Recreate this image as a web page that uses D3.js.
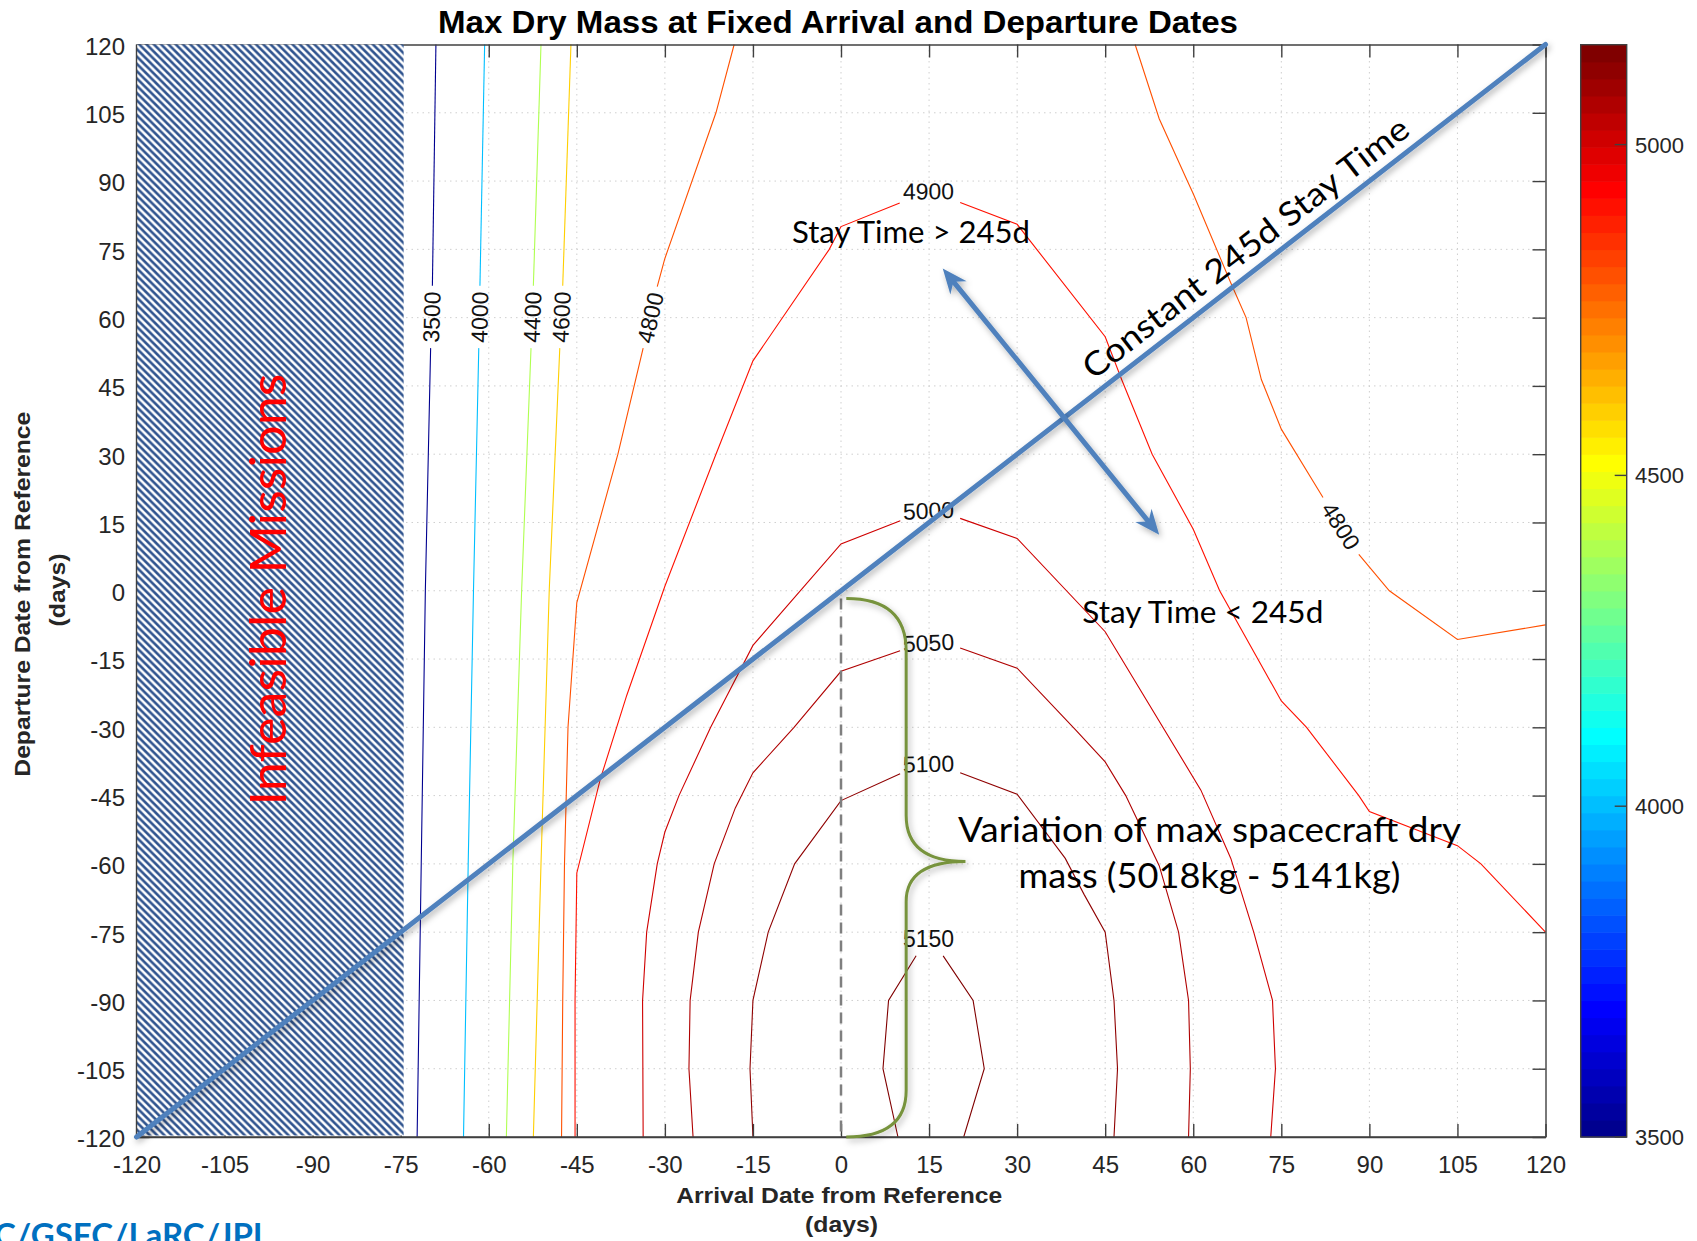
<!DOCTYPE html>
<html>
<head>
<meta charset="utf-8">
<script src="https://cdn.jsdelivr.net/npm/d3@7"></script>
<style>
  html,body{margin:0;padding:0;background:#fff;}
  svg{display:block;}
</style>
</head>
<body>
<svg id="chart" width="1697" height="1241"></svg>
<script>
// ---------------- DATA ----------------
const xTicks = [-120,-105,-90,-75,-60,-45,-30,-15,0,15,30,45,60,75,90,105,120];
const yTicks = [-120,-105,-90,-75,-60,-45,-30,-15,0,15,30,45,60,75,90,105,120];
const cbarTicks = [3500,4000,4500,5000];
const colorRange = [3500,5151];

// contour polylines in data units [arrival, departure]; each contour = list of pieces (split at the label)
const c3500 = [[[-69.0,120],[-69.6,67]],[[-69.9,53.3],[-70.8,0],[-71.5,-60],[-72.2,-120]]];
const c4000 = [[[-60.7,120],[-61.5,67]],[[-61.7,53.3],[-62.6,0],[-63.5,-60],[-64.3,-120]]];
const c4400 = [[[-51.1,120],[-52.4,67]],[[-52.8,53.3],[-54.4,0],[-55.9,-60],[-57.0,-120]]];
const c4600 = [[[-46.0,120],[-47.4,67]],[[-47.9,53.3],[-49.7,0],[-51.1,-60],[-52.4,-120]]];
const c4800L = [[[-18.2,120],[-21.3,105],[-30,73],[-31.3,66.8]],
                [[-33.7,53.3],[-38,30],[-45,-2.6],[-46.5,-30],[-47.1,-60],[-47.4,-90],[-47.6,-120]]];
const c4800R = [[[50.1,120],[54.2,103.7],[59,90],[60,87.2],[66.4,67.6],[69,60],[71.6,46.4],[75,35.5],[82.1,20.5]],
                [[88.2,8],[93.4,0],[105,-10.7],[120,-7.5]]];
const c4900 = [[[-45.3,-120],[-45.3,-90],[-45,-62],[-41,-41.4],[-36.5,-23],[-30,1],[-21.3,30],[-15,50.5],[-2,75],[0,80],[10,85.2]],
               [[20.3,85.3],[30,80.5],[45,55.8],[47.8,46.4],[53,30],[60,13.5],[64.5,0],[75,-24.2],[79.3,-30],[88.2,-45],[90,-48.5],[105,-56],[109,-60],[120,-75]]];
const c5000 = [[[-33.7,-120],[-33.8,-90],[-33.1,-75],[-31.3,-60],[-30,-53],[-27.6,-45],[-22.2,-30],[-15,-12],[0,10.3],[10.1,15.4]],
               [[20.3,15.9],[30,11.5],[45,-9],[61.3,-43.8],[66.4,-58.8],[70.3,-75],[73.5,-90],[74,-105],[73.2,-120]]];
const c5050 = [[[-25.2,-120],[-25.9,-105],[-25.7,-90],[-24.3,-75],[-21.6,-60],[-18,-47.7],[-15,-40],[-8,-30],[0,-17.7],[10.07,-13.2]],
               [[20.3,-12.6],[30,-17],[40,-30.6],[45,-37.6],[48.5,-45],[54.2,-60.4],[57.5,-75],[59.2,-90],[59.5,-105],[59.2,-120]]];
const c5100 = [[[-15,-120],[-15.5,-105],[-15,-90],[-12.4,-75],[-7.9,-60],[0,-46.1],[10.07,-40.2]],
               [[20.3,-40],[30,-44.7],[38.2,-58.8],[41.4,-66.7],[45,-75],[46.5,-90],[47.1,-105],[46.5,-120]]];
const c5150 = [[[12.8,-80.2],[8.1,-90],[7.15,-105],[9.7,-120]],
               [[17.4,-80.2],[22.5,-90],[24.4,-105],[20.9,-120]]];

const contourLevels = [3500,4000,4400,4600,4800,4800,4900,5000,5050,5100,5150];
const contourLines  = [c3500,c4000,c4400,c4600,c4800L,c4800R,c4900,c5000,c5050,c5100,c5150];
const labelPos = [[-69.75,60.15],[-61.6,60.1],[-52.6,60.1],[-47.65,60.1],[-32.5,60.0],[85.15,14.25],
                  [14.9,87.8],[14.9,17.65],[14.9,-11.4],[14.9,-38.0],[14.9,-76.5]];

// annotations (data units)
const infeasibleX = [-120,-74.5];
const stayLine = [[-120,-120],[120,120]];
const arrowEnds = [[17.33,70.8],[54.2,12.3]];
const braceXs = [0.9,11.1,21.2];
const braceYs = [-1.7,-13.2,-49.4,-59.5,-68.3,-109.8,-120];
const dashedLine = [[0,-1.7],[0,-120]];

// ---------------- SETUP ----------------
const W = 1697, H = 1241;
const svg = d3.select('#chart');
const x = d3.scaleLinear().domain([-120,120]).range([136.5,1545.5]);
const y = d3.scaleLinear().domain([-120,120]).range([1137,44.5]);
const cy = d3.scaleLinear().domain(colorRange).range([1137,44.7]);
const fmt = d => String(d);   // plain hyphen-minus, as in the original

// MATLAB jet(64)
function jet64(i){ // i: 0..63
  const n = 16, u = [];
  for(let k=1;k<=n;k++) u.push(k/n);
  for(let k=0;k<n-1;k++) u.push(1);
  for(let k=n;k>=1;k--) u.push(k/n);
  const i1 = i+1;
  const r = (i1-24>=1 && i1-24<=u.length) ? u[i1-25] : 0;
  const g = (i1-8>=1 && i1-8<=u.length) ? u[i1-9] : 0;
  const b = (i1+8>=1 && i1+8<=u.length) ? u[i1+7] : 0;
  return d3.rgb(r*255,g*255,b*255).formatHex();
}
function levelColor(v){
  const t = (v-colorRange[0])/(colorRange[1]-colorRange[0]);
  return jet64(Math.max(0,Math.min(63,Math.floor(t*64))));
}

const FONT = "'Liberation Sans', Arial, Helvetica, sans-serif";
const ANN = "Lato, 'Open Sans', 'Noto Sans', sans-serif";

const defs = svg.append('defs');
const pat = defs.append('pattern').attr('id','hatch').attr('patternUnits','userSpaceOnUse')
  .attr('width',7.3).attr('height',7.3);
pat.append('rect').attr('width',7.3).attr('height',7.3).attr('fill','#ffffff');
pat.append('path').attr('d','M0,0 L7.3,7.3 M-3.65,3.65 L3.65,10.95 M3.65,-3.65 L10.95,3.65')
  .attr('stroke','#30548f').attr('stroke-width',2.6);
const flt = defs.append('filter').attr('id','shadow').attr('filterUnits','userSpaceOnUse')
  .attr('x',0).attr('y',0).attr('width',W).attr('height',H);
flt.append('feDropShadow').attr('dx',2).attr('dy',3).attr('stdDeviation',3)
  .attr('flood-color','#000').attr('flood-opacity',0.3);

svg.append('rect').attr('width',W).attr('height',H).attr('fill','#fff');

// ---------------- GRID ----------------
const grid = svg.append('g').attr('stroke','#cfcfcf').attr('stroke-width',1).attr('stroke-dasharray','1.5,4');
grid.selectAll('line.gx').data(xTicks.slice(1,-1)).join('line')
  .attr('x1',d=>x(d)).attr('x2',d=>x(d)).attr('y1',y(120)).attr('y2',y(-120));
grid.selectAll('line.gy').data(yTicks.slice(1,-1)).join('line')
  .attr('y1',d=>y(d)).attr('y2',d=>y(d)).attr('x1',x(-120)).attr('x2',x(120));

// ---------------- CONTOURS ----------------
const line = d3.line().x(d=>x(d[0])).y(d=>y(d[1]));
const cg = svg.append('g');
contourLines.forEach((pieces,k)=>{
  const col = levelColor(contourLevels[k]);
  pieces.forEach(p=>{
    cg.append('path').attr('d',line(p)).attr('fill','none').attr('stroke',col).attr('stroke-width',1.1);
  });
});
// labels: angle from the gap between pieces
const lg = svg.append('g');
contourLines.forEach((pieces,k)=>{
  const A = pieces[0], B = pieces[1];
  const ends = [A[0],A[A.length-1]], starts=[B[0],B[B.length-1]];
  let best=null, bd=1e9;
  ends.forEach(a=>starts.forEach(b=>{
    const dd = Math.hypot(x(b[0])-x(a[0]), y(b[1])-y(a[1]));
    if(dd<bd){bd=dd;best=[a,b];}
  }));
  let ang = Math.atan2(y(best[1][1])-y(best[0][1]), x(best[1][0])-x(best[0][0]))*180/Math.PI;
  if(ang>90) ang-=180; if(ang<=-90) ang+=180;
  const px = x(labelPos[k][0]), py = y(labelPos[k][1]);
  lg.append('text').attr('transform',`translate(${px},${py}) rotate(${ang})`)
    .attr('text-anchor','middle').attr('dy','0.36em')
    .attr('font-family',FONT).attr('font-size',23).attr('fill','#111')
    .text(contourLevels[k]);
});

// ---------------- AXES ----------------
function styleAxis(g){
  g.attr('font-family',FONT).attr('font-size',24);
  g.select('.domain').attr('stroke','#404040').attr('stroke-width',1.4);
  g.selectAll('.tick line').attr('stroke','#404040').attr('stroke-width',1.4);
  g.selectAll('.tick text').attr('fill','#262626');
}
svg.append('g').attr('transform',`translate(0,${y(-120)})`)
  .call(d3.axisBottom(x).tickValues(xTicks).tickFormat(fmt).tickSize(-13).tickSizeOuter(0).tickPadding(19)).call(styleAxis);
svg.append('g').attr('transform',`translate(${x(-120)},0)`)
  .call(d3.axisLeft(y).tickValues(yTicks).tickFormat(fmt).tickSize(-13).tickSizeOuter(0).tickPadding(11.5)).call(styleAxis)
  .selectAll('.tick text').attr('dy','0.41em');
svg.append('g').attr('transform',`translate(0,${y(120)})`)
  .call(d3.axisTop(x).tickValues(xTicks).tickSize(-13).tickSizeOuter(0).tickFormat(()=>'')).call(styleAxis);
svg.append('g').attr('transform',`translate(${x(120)},0)`)
  .call(d3.axisRight(y).tickValues(yTicks).tickSize(-13).tickSizeOuter(0).tickFormat(()=>'')).call(styleAxis);

// infeasible hatch
svg.append('rect').attr('x',x(infeasibleX[0])).attr('y',y(120))
  .attr('width',x(infeasibleX[1])-x(infeasibleX[0])).attr('height',y(-120)-y(120)-1.5)
  .attr('fill','url(#hatch)');
svg.append('line').attr('x1',x(-120)).attr('x2',x(-120)).attr('y1',y(120)).attr('y2',y(-120))
  .attr('stroke','#404040').attr('stroke-width',1.4);
svg.append('line').attr('x1',x(-120)).attr('x2',x(120)).attr('y1',y(-120)).attr('y2',y(-120))
  .attr('stroke','#404040').attr('stroke-width',1.4);

// titles
svg.append('text').attr('x',838).attr('y',33.3).attr('text-anchor','middle')
  .attr('font-family',FONT).attr('font-weight','bold').attr('font-size',32)
  .attr('textLength',800).attr('lengthAdjust','spacingAndGlyphs').attr('fill','#000')
  .text('Max Dry Mass at Fixed Arrival and Departure Dates');
svg.append('text').attr('x',839.2).attr('y',1203.3).attr('text-anchor','middle')
  .attr('font-family',FONT).attr('font-weight','bold').attr('font-size',22)
  .attr('textLength',326).attr('lengthAdjust','spacingAndGlyphs').attr('fill','#262626')
  .text('Arrival Date from Reference');
svg.append('text').attr('x',841.5).attr('y',1232).attr('text-anchor','middle')
  .attr('font-family',FONT).attr('font-weight','bold').attr('font-size',22)
  .attr('textLength',73).attr('lengthAdjust','spacingAndGlyphs').attr('fill','#262626')
  .text('(days)');
svg.append('text').attr('transform','translate(29.5,594.2) rotate(-90)').attr('text-anchor','middle')
  .attr('font-family',FONT).attr('font-weight','bold').attr('font-size',22)
  .attr('textLength',365).attr('lengthAdjust','spacingAndGlyphs').attr('fill','#262626')
  .text('Departure Date from Reference');
svg.append('text').attr('transform','translate(64.6,590) rotate(-90)').attr('text-anchor','middle')
  .attr('font-family',FONT).attr('font-weight','bold').attr('font-size',22)
  .attr('textLength',73).attr('lengthAdjust','spacingAndGlyphs').attr('fill','#262626')
  .text('(days)');

// ---------------- COLORBAR ----------------
const cbx0 = 1580.7, cbx1 = 1626.7;
const cbg = svg.append('g');
const bands = d3.range(64);
const step = (colorRange[1]-colorRange[0])/64;
cbg.selectAll('rect.band').data(bands).join('rect')
  .attr('x',cbx0).attr('width',cbx1-cbx0)
  .attr('y',i=>cy(colorRange[0]+(i+1)*step))
  .attr('height',i=>cy(colorRange[0]+i*step)-cy(colorRange[0]+(i+1)*step)+0.6)
  .attr('fill',i=>jet64(i));
cbg.append('rect').attr('x',cbx0).attr('y',cy(colorRange[1])).attr('width',cbx1-cbx0)
  .attr('height',cy(colorRange[0])-cy(colorRange[1])).attr('fill','none')
  .attr('stroke','#404040').attr('stroke-width',1.4);
cbg.selectAll('line.ct').data(cbarTicks).join('line')
  .attr('x1',cbx1-12).attr('x2',cbx1).attr('y1',d=>cy(d)).attr('y2',d=>cy(d))
  .attr('stroke','#404040').attr('stroke-width',1.4);
cbg.selectAll('text.cl').data(cbarTicks).join('text')
  .attr('x',1635).attr('y',d=>cy(d)).attr('dy','0.36em')
  .attr('font-family',FONT).attr('font-size',22).attr('fill','#262626').text(d=>d);

// ---------------- ANNOTATIONS ----------------
svg.append('text').attr('transform',`translate(${x(-94.6)},${y(0.27)}) rotate(-90)`)
  .attr('text-anchor','middle').attr('font-family',ANN).attr('font-size',50)
  .attr('textLength',432).attr('lengthAdjust','spacingAndGlyphs').attr('fill','#ff0000')
  .text('Infeasible Missions');

// dashed reference line
svg.append('line').attr('x1',x(dashedLine[0][0])).attr('x2',x(dashedLine[1][0]))
  .attr('y1',y(dashedLine[0][1])).attr('y2',y(dashedLine[1][1]))
  .attr('stroke','#7f7f7f').attr('stroke-width',2.5).attr('stroke-dasharray','11,7');

// constant stay-time line
const BLUE = '#4f81bd';
svg.append('line').attr('x1',x(stayLine[0][0])).attr('y1',y(stayLine[0][1]))
  .attr('x2',x(stayLine[1][0])).attr('y2',y(stayLine[1][1]))
  .attr('stroke',BLUE).attr('stroke-width',5).attr('stroke-linecap','round').attr('filter','url(#shadow)');

// double arrow
(function(){
  const p1 = [x(arrowEnds[0][0]), y(arrowEnds[0][1])], p2 = [x(arrowEnds[1][0]), y(arrowEnds[1][1])];
  const L = Math.hypot(p2[0]-p1[0], p2[1]-p1[1]);
  const u = [(p2[0]-p1[0])/L, (p2[1]-p1[1])/L];
  const ga = svg.append('g').attr('filter','url(#shadow)');
  ga.append('line').attr('x1',p1[0]+u[0]*14).attr('y1',p1[1]+u[1]*14)
    .attr('x2',p2[0]-u[0]*14).attr('y2',p2[1]-u[1]*14)
    .attr('stroke',BLUE).attr('stroke-width',5);
  const a2 = Math.atan2(u[1],u[0])*180/Math.PI;
  const head = 'M0,0 L-25,-10.5 L-17,0 L-25,10.5 Z';
  ga.append('path').attr('d',head).attr('fill',BLUE).attr('transform',`translate(${p2[0]},${p2[1]}) rotate(${a2})`);
  ga.append('path').attr('d',head).attr('fill',BLUE).attr('transform',`translate(${p1[0]},${p1[1]}) rotate(${a2+180})`);
})();

// curly brace
(function(){
  const p = d3.path();
  const bx = braceXs, by = braceYs;
  p.moveTo(x(bx[0]),y(by[0]));
  p.quadraticCurveTo(x(bx[1]),y(by[0]),x(bx[1]),y(by[1]));
  p.lineTo(x(bx[1]),y(by[2]));
  p.quadraticCurveTo(x(bx[1]),y(by[3]),x(bx[2]),y(by[3]));
  p.quadraticCurveTo(x(bx[1]),y(by[3]),x(bx[1]),y(by[4]));
  p.lineTo(x(bx[1]),y(by[5]));
  p.quadraticCurveTo(x(bx[1]),y(by[6]),x(bx[0]),y(by[6]));
  svg.append('path').attr('d',p.toString()).attr('fill','none')
    .attr('stroke','#77933c').attr('stroke-width',3).attr('filter','url(#shadow)');
})();

// text callouts
function callout(txt, dx, dy, len, size, anchor){
  return svg.append('text').attr('x',x(dx)).attr('y',y(dy)).attr('text-anchor',anchor||'start')
    .attr('font-family',ANN).attr('font-size',size).attr('fill','#000')
    .attr('textLength',len).attr('lengthAdjust','spacingAndGlyphs').text(txt);
}
callout('Stay Time > 245d', -8.35, 76.46, 238, 30);
callout('Stay Time < 245d', 41.1, -7.06, 241, 30);
callout('Variation of max spacecraft dry', 62.76, -55.2, 503, 35, 'middle');
callout('mass (5018kg - 5141kg)', 62.76, -65.2, 382, 35, 'middle');

const diagAng = Math.atan2(y(stayLine[1][1])-y(stayLine[0][1]), x(stayLine[1][0])-x(stayLine[0][0]))*180/Math.PI;
svg.append('text').attr('transform',`translate(${x(43.0)},${y(46.2)}) rotate(${diagAng})`)
  .attr('font-family',ANN).attr('font-size',33).attr('fill','#000')
  .attr('textLength',403).attr('lengthAdjust','spacingAndGlyphs')
  .text('Constant 245d Stay Time');

// footer (cropped at the bottom edge in the original)
svg.append('text').attr('x',270).attr('y',1247).attr('text-anchor','end')
  .attr('font-family',"Lato, 'Liberation Sans', Arial, sans-serif").attr('font-weight','bold').attr('font-size',33)
  .attr('fill','#0070c0').text('ARC/GSFC/LaRC/JPL');
</script>
</body>
</html>
